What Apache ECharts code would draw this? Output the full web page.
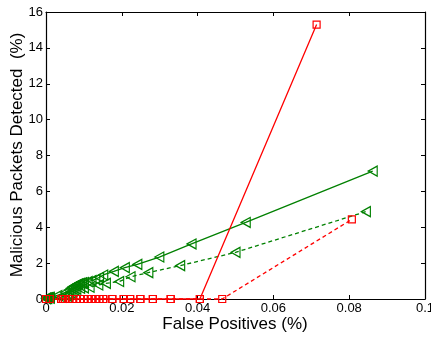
<!DOCTYPE html>
<html>
<head>
<meta charset="utf-8">
<script src="https://cdn.jsdelivr.net/npm/echarts@6/dist/echarts.min.js"></script>
<style>
  html, body { margin: 0; padding: 0; background: #fff; }
  #chart { width: 431px; height: 338px; }
</style>
</head>
<body>
<div id="chart"></div>
<script>
// False positive rate (%) vs. malicious packets detected (%) for four detector settings
const greenSolid = [
  [0, 0.05], [0.0003, 0.06], [0.0006, 0.08], [0.001, 0.1], [0.003, 0.2], [0.005, 0.35],
  [0.006, 0.5], [0.0065, 0.6], [0.007, 0.68], [0.0075, 0.74], [0.008, 0.8], [0.0085, 0.85],
  [0.009, 0.88], [0.0095, 0.9], [0.010, 0.92], [0.011, 0.97], [0.012, 1.03], [0.013, 1.1],
  [0.014, 1.2], [0.0151, 1.34], [0.0179, 1.54], [0.0208, 1.75], [0.0241, 1.93],
  [0.0299, 2.34], [0.0384, 3.07], [0.0527, 4.27], [0.0862, 7.13]
];
const greenDashed = [
  [0, 0.02], [0.0003, 0.03], [0.001, 0.04], [0.004, 0.1], [0.0055, 0.15], [0.006, 0.25],
  [0.0065, 0.35], [0.007, 0.42], [0.0075, 0.5], [0.008, 0.55], [0.009, 0.6], [0.010, 0.62],
  [0.0115, 0.65], [0.0138, 0.78], [0.0158, 0.87], [0.0193, 0.97], [0.0223, 1.24],
  [0.027, 1.47], [0.0354, 1.86], [0.05, 2.6], [0.0844, 4.87]
];
const redSolid = [
  [0, 0], [0.001, 0], [0.004, 0], [0.0045, 0], [0.005, 0], [0.006, 0], [0.007, 0],
  [0.008, 0], [0.009, 0], [0.010, 0], [0.011, 0], [0.012, 0], [0.0131, 0], [0.0141, 0],
  [0.0151, 0], [0.0175, 0], [0.0205, 0], [0.0222, 0], [0.0249, 0], [0.0282, 0],
  [0.0329, 0], [0.0406, 0], [0.0714, 15.3]
];
const redDashed = [
  [0, 0], [0.001, 0], [0.004, 0], [0.005, 0], [0.006, 0], [0.007, 0], [0.008, 0],
  [0.009, 0], [0.010, 0], [0.011, 0], [0.012, 0], [0.0131, 0], [0.0141, 0], [0.0151, 0],
  [0.0175, 0], [0.0205, 0], [0.0222, 0], [0.0249, 0], [0.0282, 0], [0.0329, 0],
  [0.0406, 0], [0.0465, 0], [0.0807, 4.44]
];

const xName = 'False Positives (%)';
const yName = 'Malicious Packets Detected  (%)';

const RED = '#ff0000';
const GREEN = '#008000';
const TRI_LEFT = 'path://M0,5 L9,0 L9,10 Z';
const FONT = 'Liberation Sans, Arial, sans-serif';

function mkSeries(data, color, symbol, size, dashed) {
  return {
    type: 'line',
    data: data,
    symbol: symbol,
    symbolSize: size,
    clip: false,
    silent: true,
    lineStyle: { color: color, width: 1.3, type: dashed ? [4, 3] : 'solid' },
    itemStyle: { color: 'rgba(255,255,255,0)', borderColor: color, borderWidth: 1.2 },
    animation: false
  };
}

const axisCommon = {
  axisLine: { show: true, onZero: false, lineStyle: { color: '#000', width: 1.2 } },
  axisTick: { show: true, inside: true, length: 4, lineStyle: { color: '#000' } },
  splitLine: { show: false }
};

const chart = echarts.init(document.getElementById('chart'), null, { renderer: 'canvas' });
chart.setOption({
  backgroundColor: '#fff',
  animation: false,
  grid: { left: 46, right: 6, top: 12, bottom: 39, containLabel: false, outerBoundsMode: 'none' },
  // axis titles placed as free text
  graphic: [
    {
      type: 'text', x: 235, y: 324,
      style: {
        text: xName, fontFamily: FONT, fontSize: 17, fill: '#000',
        align: 'center', verticalAlign: 'middle'
      }
    },
    {
      type: 'text', x: 17, y: 155, rotation: Math.PI / 2,
      style: {
        text: yName, fontFamily: FONT, fontSize: 17, fill: '#000',
        align: 'center', verticalAlign: 'middle'
      }
    }
  ],
  xAxis: [
    Object.assign({
      type: 'value', min: 0, max: 0.1, interval: 0.02, position: 'bottom',
      axisLabel: {
        fontFamily: FONT, fontSize: 13, color: '#000', margin: 3,
        formatter: v => String(+v.toFixed(2))
      }
    }, axisCommon),
    Object.assign({
      type: 'value', min: 0, max: 0.1, interval: 0.02, position: 'top',
      axisLabel: { show: false }
    }, axisCommon)
  ],
  yAxis: [
    Object.assign({
      type: 'value', min: 0, max: 16, interval: 2, position: 'left',
      axisLabel: { fontFamily: FONT, fontSize: 13, color: '#000', margin: 3 }
    }, axisCommon),
    Object.assign({
      type: 'value', min: 0, max: 16, interval: 2, position: 'right',
      axisLabel: { show: false }
    }, axisCommon)
  ],
  series: [
    mkSeries(redDashed, RED, 'rect', 7, true),
    mkSeries(greenDashed, GREEN, TRI_LEFT, [9, 10], true),
    mkSeries(greenSolid, GREEN, TRI_LEFT, [9, 10], false),
    mkSeries(redSolid, RED, 'rect', 7, false)
  ]
});
</script>
</body>
</html>
